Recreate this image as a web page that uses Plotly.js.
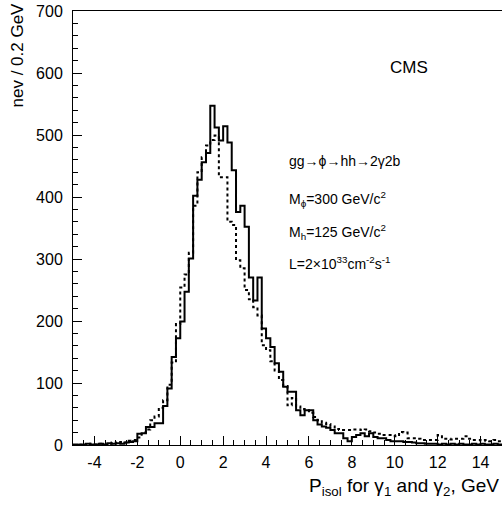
<!DOCTYPE html>
<html>
<head>
<meta charset="utf-8">
<script src="https://cdn.plot.ly/plotly-3.0.1.min.js"></script>
<style>html,body{margin:0;padding:0;background:#fff;}#chart{width:502px;height:506px;}</style>
</head>
<body>
<div id="chart"></div>
<script>
// Histogram: 100 bins of 0.2 GeV from -5 to 15
var binStart = -5.0;
var binWidth = 0.2;

// solid histogram (counts per bin, left to right)
var solidCounts = [
  1, 0, 1, 2, 1, 1, 2, 1, 3, 2,
  3, 2, 4, 5, 6, 18, 19, 29, 29, 35,
  35, 63, 91, 142, 172, 199, 247, 301, 402, 428,
  456, 471, 547, 512, 491, 514, 488, 443, 376, 386,
  352, 270, 233, 270, 188, 172, 158, 132, 118, 94,
  86, 86, 56, 48, 56, 56, 40, 33, 30, 28,
  24, 19, 19, 11, 6, 13, 16, 19, 14, 19,
  13, 11, 11, 8, 6, 6, 6, 5, 5, 4,
  3, 3, 2, 2, 2, 1, 2, 1, 2, 1,
  2, 1, 1, 2, 1, 2, 1, 1, 2, 1
];

// dotted histogram (counts per bin, left to right)
var dottedCounts = [
  0, 1, 0, 1, 2, 1, 2, 1, 2, 4,
  3, 5, 4, 7, 8, 12, 20, 25, 40, 46,
  60, 72, 97, 133, 195, 254, 275, 310, 386, 440,
  464, 483, 492, 499, 432, 432, 360, 355, 298, 285,
  250, 235, 222, 209, 161, 153, 135, 120, 105, 95,
  64, 76, 62, 58, 56, 52, 45, 40, 36, 34,
  30, 26, 24, 24, 24, 25, 25, 24, 25, 22,
  20, 18, 16, 16, 16, 14, 21, 20, 11, 11,
  10, 8, 8, 8, 8, 16, 10, 10, 9, 10,
  10, 14, 10, 8, 8, 7, 8, 6, 8, 6
];

var xTickVals = [-4, -2, 0, 2, 4, 6, 8, 10, 12, 14];
var yTickVals = [0, 100, 200, 300, 400, 500, 600, 700];

function stepXY(counts) {
  var xs = [], ys = [];
  for (var i = 0; i < counts.length; i++) {
    xs.push(binStart + i * binWidth);
    ys.push(counts[i]);
  }
  xs.push(binStart + counts.length * binWidth);
  ys.push(counts[counts.length - 1]);
  return {x: xs, y: ys};
}

var s = stepXY(solidCounts);
var d = stepXY(dottedCounts);

var traces = [
  {x: d.x, y: d.y, type: 'scatter', mode: 'lines', line: {shape: 'hv', color: '#000', width: 2, dash: 'dot'}, hoverinfo: 'skip'},
  {x: s.x, y: s.y, type: 'scatter', mode: 'lines', line: {shape: 'hv', color: '#000', width: 2}, hoverinfo: 'skip'}
];

var fontFam = 'Liberation Sans, Arial, Helvetica, sans-serif';

function ax(x) { return (x - 73) / 429; }
function ay(y) { return (445 - y) / 434; }

var layout = {
  width: 502, height: 506,
  margin: {l: 73, r: 0, t: 11, b: 61, pad: 0},
  paper_bgcolor: '#fff', plot_bgcolor: '#fff',
  showlegend: false,
  font: {family: fontFam, size: 16, color: '#000'},
  xaxis: {
    range: [-5, 15], showgrid: false, zeroline: false,
    showline: true, linecolor: '#000', linewidth: 1, mirror: true,
    ticks: 'inside', ticklen: 9, tickwidth: 1, tickcolor: '#000',
    tickvals: xTickVals, ticktext: xTickVals.map(String),
    ticklabelstandoff: 3,
    tickfont: {family: fontFam, size: 16, color: '#000'},
    minor: {ticks: 'inside', dtick: 0.5, ticklen: 5, tickwidth: 1, tickcolor: '#000', showgrid: false}
  },
  yaxis: {
    range: [0, 700], showgrid: false, zeroline: false,
    showline: true, linecolor: '#000', linewidth: 1,
    ticks: 'inside', ticklen: 9, tickwidth: 1, tickcolor: '#000',
    tickvals: yTickVals, ticktext: yTickVals.map(String),
    ticklabelstandoff: 6,
    tickfont: {family: fontFam, size: 16, color: '#000'},
    minor: {ticks: 'inside', dtick: 20, ticklen: 5, tickwidth: 1, tickcolor: '#000', showgrid: false}
  },
  annotations: [
    {text: 'CMS', xref: 'paper', yref: 'paper', x: ax(409), y: ay(67), xanchor: 'center', yanchor: 'middle', showarrow: false, font: {family: fontFam, size: 17, color: '#000'}},
    {text: 'gg\u2192\u03d5\u2192hh\u21922\u03b32b', xref: 'paper', yref: 'paper', x: ax(287), y: ay(161), xanchor: 'left', yanchor: 'middle', showarrow: false, font: {family: fontFam, size: 14, color: '#000'}},
    {text: 'M<sub>\u03d5</sub>=300 GeV/c<sup>2</sup>', xref: 'paper', yref: 'paper', x: ax(287), y: ay(199), xanchor: 'left', yanchor: 'middle', showarrow: false, font: {family: fontFam, size: 14, color: '#000'}},
    {text: 'M<sub>h</sub>=125 GeV/c<sup>2</sup>', xref: 'paper', yref: 'paper', x: ax(287), y: ay(232), xanchor: 'left', yanchor: 'middle', showarrow: false, font: {family: fontFam, size: 14, color: '#000'}},
    {text: 'L=2\u00d710<sup>33</sup>cm<sup>-2</sup>s<sup>-1</sup>', xref: 'paper', yref: 'paper', x: ax(287), y: ay(263), xanchor: 'left', yanchor: 'middle', showarrow: false, font: {family: fontFam, size: 14, color: '#000'}},
    {text: 'P<sub>isol</sub> for \u03b3<sub>1</sub> and \u03b3<sub>2</sub>, GeV', xref: 'paper', yref: 'paper', x: ax(501), y: ay(487), xanchor: 'right', yanchor: 'middle', showarrow: false, font: {family: fontFam, size: 19, color: '#000'}},
    {text: 'nev / 0.2 GeV', textangle: -90, xref: 'paper', yref: 'paper', x: ax(17), y: ay(1), xanchor: 'center', yanchor: 'top', showarrow: false, font: {family: fontFam, size: 17, color: '#000'}}
  ]
};

Plotly.newPlot('chart', traces, layout, {staticPlot: true, displayModeBar: false});
</script>
</body>
</html>
